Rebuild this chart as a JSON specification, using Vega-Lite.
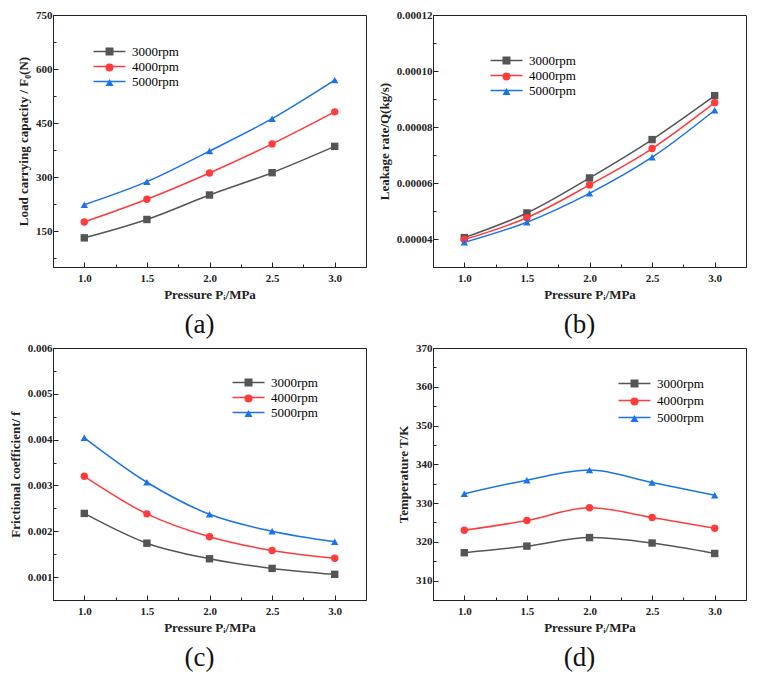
{
  "$schema": "https://vega.github.io/schema/vega-lite/v6.json",
  "padding": {"left": 8, "top": 8, "right": 5, "bottom": 5},
  "background": "white",
  "columns": 2,
  "spacing": {"column": 10, "row": 2},
  "resolve": {
    "scale": {"x": "independent", "y": "independent", "stroke": "independent", "fill": "independent", "shape": "independent"},
    "legend": {"stroke": "independent", "fill": "independent", "shape": "independent"}
  },
  "datasets": {
    "load": [
      {"p": 1.0, "speed": "3000rpm", "v": 131}, {"p": 1.5, "speed": "3000rpm", "v": 182}, {"p": 2.0, "speed": "3000rpm", "v": 250}, {"p": 2.5, "speed": "3000rpm", "v": 312}, {"p": 3.0, "speed": "3000rpm", "v": 385},
      {"p": 1.0, "speed": "4000rpm", "v": 175}, {"p": 1.5, "speed": "4000rpm", "v": 238}, {"p": 2.0, "speed": "4000rpm", "v": 311}, {"p": 2.5, "speed": "4000rpm", "v": 392}, {"p": 3.0, "speed": "4000rpm", "v": 481},
      {"p": 1.0, "speed": "5000rpm", "v": 223}, {"p": 1.5, "speed": "5000rpm", "v": 287}, {"p": 2.0, "speed": "5000rpm", "v": 372}, {"p": 2.5, "speed": "5000rpm", "v": 462}, {"p": 3.0, "speed": "5000rpm", "v": 569}
    ],
    "leak": [
      {"p": 1.0, "speed": "3000rpm", "v": 0.0000405}, {"p": 1.5, "speed": "3000rpm", "v": 0.0000493}, {"p": 2.0, "speed": "3000rpm", "v": 0.0000618}, {"p": 2.5, "speed": "3000rpm", "v": 0.0000755}, {"p": 3.0, "speed": "3000rpm", "v": 0.0000912},
      {"p": 1.0, "speed": "4000rpm", "v": 0.0000398}, {"p": 1.5, "speed": "4000rpm", "v": 0.0000476}, {"p": 2.0, "speed": "4000rpm", "v": 0.0000593}, {"p": 2.5, "speed": "4000rpm", "v": 0.0000723}, {"p": 3.0, "speed": "4000rpm", "v": 0.0000887},
      {"p": 1.0, "speed": "5000rpm", "v": 0.0000388}, {"p": 1.5, "speed": "5000rpm", "v": 0.000046}, {"p": 2.0, "speed": "5000rpm", "v": 0.0000563}, {"p": 2.5, "speed": "5000rpm", "v": 0.0000692}, {"p": 3.0, "speed": "5000rpm", "v": 0.000086}
    ],
    "fric": [
      {"p": 1.0, "speed": "3000rpm", "v": 0.00239}, {"p": 1.5, "speed": "3000rpm", "v": 0.00174}, {"p": 2.0, "speed": "3000rpm", "v": 0.0014}, {"p": 2.5, "speed": "3000rpm", "v": 0.00119}, {"p": 3.0, "speed": "3000rpm", "v": 0.00106},
      {"p": 1.0, "speed": "4000rpm", "v": 0.0032}, {"p": 1.5, "speed": "4000rpm", "v": 0.00238}, {"p": 2.0, "speed": "4000rpm", "v": 0.00188}, {"p": 2.5, "speed": "4000rpm", "v": 0.00158}, {"p": 3.0, "speed": "4000rpm", "v": 0.00141},
      {"p": 1.0, "speed": "5000rpm", "v": 0.00404}, {"p": 1.5, "speed": "5000rpm", "v": 0.00307}, {"p": 2.0, "speed": "5000rpm", "v": 0.00237}, {"p": 2.5, "speed": "5000rpm", "v": 0.002}, {"p": 3.0, "speed": "5000rpm", "v": 0.00177}
    ],
    "temp": [
      {"p": 1.0, "speed": "3000rpm", "v": 317.2}, {"p": 1.5, "speed": "3000rpm", "v": 318.9}, {"p": 2.0, "speed": "3000rpm", "v": 321.1}, {"p": 2.5, "speed": "3000rpm", "v": 319.7}, {"p": 3.0, "speed": "3000rpm", "v": 317.0},
      {"p": 1.0, "speed": "4000rpm", "v": 323.0}, {"p": 1.5, "speed": "4000rpm", "v": 325.5}, {"p": 2.0, "speed": "4000rpm", "v": 328.8}, {"p": 2.5, "speed": "4000rpm", "v": 326.3}, {"p": 3.0, "speed": "4000rpm", "v": 323.5},
      {"p": 1.0, "speed": "5000rpm", "v": 332.4}, {"p": 1.5, "speed": "5000rpm", "v": 335.9}, {"p": 2.0, "speed": "5000rpm", "v": 338.5}, {"p": 2.5, "speed": "5000rpm", "v": 335.3}, {"p": 3.0, "speed": "5000rpm", "v": 332.0}
    ]
  },
  "concat": [
    {
      "width": 313, "height": 252,
      "data": {"name": "load"},
      "title": {"text": "(a)", "orient": "bottom", "frame": "group", "dx": -10, "offset": 11},
      "resolve": {"axis": {"x": "independent", "y": "independent"}},
      "layer": [
        {
          "mark": {"type": "line", "interpolate": "monotone", "strokeWidth": 1.5},
          "encoding": {
            "x": {"field": "p", "type": "quantitative", "scale": {"domain": [0.75, 3.25], "nice": false}, "axis": {"values": [1, 1.5, 2, 2.5, 3], "format": ".1f", "title": "Pressure Pᵢ/MPa", "labelPadding": 10}},
            "y": {"field": "v", "type": "quantitative", "scale": {"domain": [50, 750], "nice": false, "zero": false}, "axis": {"values": [150, 300, 450, 600, 750], "format": "d", "title": "Load carrying capacity / F₀(N)"}},
            "stroke": {"field": "speed", "type": "nominal", "scale": {"domain": ["3000rpm", "4000rpm", "5000rpm"], "range": ["#555555", "#ff3b3b", "#1a73e8"]},
              "legend": {"orient": "none", "legendX": 50, "legendY": 30, "title": null, "rowPadding": 1, "symbolType": "M-4,0H4"}}
          }
        },
        {
          "mark": {"type": "point", "filled": true, "size": 55, "opacity": 1},
          "encoding": {
            "x": {"field": "p", "type": "quantitative", "axis": {"orient": "bottom", "values": [1.25, 1.75, 2.25, 2.75], "labels": false, "title": null, "domain": false, "tickSize": -3}},
            "y": {"field": "v", "type": "quantitative", "axis": {"orient": "left", "values": [75, 225, 375, 525, 675], "labels": false, "title": null, "domain": false, "tickSize": -3}},
            "fill": {"field": "speed", "type": "nominal", "scale": {"range": ["#555555", "#ff3b3b", "#1a73e8"]},
              "legend": {"orient": "none", "legendX": 50, "legendY": 30, "title": null, "rowPadding": 1, "labelExpr": "''"}},
            "shape": {"field": "speed", "type": "nominal", "scale": {"range": ["square", "circle", "triangle-up"]},
              "legend": {"orient": "none", "legendX": 50, "legendY": 30, "title": null, "rowPadding": 1, "labelExpr": "''"}}
          }
        }
      ]
    },
    {
      "width": 313, "height": 252,
      "data": {"name": "leak"},
      "title": {"text": "(b)", "orient": "bottom", "frame": "group", "dx": -10, "offset": 11},
      "resolve": {"axis": {"x": "independent", "y": "independent"}},
      "layer": [
        {
          "mark": {"type": "line", "interpolate": "monotone", "strokeWidth": 1.5},
          "encoding": {
            "x": {"field": "p", "type": "quantitative", "scale": {"domain": [0.75, 3.25], "nice": false}, "axis": {"values": [1, 1.5, 2, 2.5, 3], "format": ".1f", "title": "Pressure Pᵢ/MPa", "labelPadding": 10}},
            "y": {"field": "v", "type": "quantitative", "scale": {"domain": [0.00003, 0.00012], "nice": false, "zero": false}, "axis": {"values": [0.00004, 0.00006, 0.00008, 0.0001, 0.00012], "format": ".5f", "title": "Leakage rate/Q(kg/s)"}},
            "stroke": {"field": "speed", "type": "nominal", "scale": {"domain": ["3000rpm", "4000rpm", "5000rpm"], "range": ["#555555", "#ff3b3b", "#1a73e8"]},
              "legend": {"orient": "none", "legendX": 67, "legendY": 39, "title": null, "rowPadding": 1, "symbolType": "M-4,0H4"}}
          }
        },
        {
          "mark": {"type": "point", "filled": true, "size": 55, "opacity": 1},
          "encoding": {
            "x": {"field": "p", "type": "quantitative", "axis": {"orient": "bottom", "values": [1.25, 1.75, 2.25, 2.75], "labels": false, "title": null, "domain": false, "tickSize": -3}},
            "y": {"field": "v", "type": "quantitative", "axis": {"orient": "left", "values": [0.00005, 0.00007, 0.00009, 0.00011], "labels": false, "title": null, "domain": false, "tickSize": -3}},
            "fill": {"field": "speed", "type": "nominal", "scale": {"range": ["#555555", "#ff3b3b", "#1a73e8"]},
              "legend": {"orient": "none", "legendX": 67, "legendY": 39, "title": null, "rowPadding": 1, "labelExpr": "''"}},
            "shape": {"field": "speed", "type": "nominal", "scale": {"range": ["square", "circle", "triangle-up"]},
              "legend": {"orient": "none", "legendX": 67, "legendY": 39, "title": null, "rowPadding": 1, "labelExpr": "''"}}
          }
        }
      ]
    },
    {
      "width": 313, "height": 252,
      "data": {"name": "fric"},
      "title": {"text": "(c)", "orient": "bottom", "frame": "group", "dx": -10, "offset": 11},
      "resolve": {"axis": {"x": "independent", "y": "independent"}},
      "layer": [
        {
          "mark": {"type": "line", "interpolate": "monotone", "strokeWidth": 1.5},
          "encoding": {
            "x": {"field": "p", "type": "quantitative", "scale": {"domain": [0.75, 3.25], "nice": false}, "axis": {"values": [1, 1.5, 2, 2.5, 3], "format": ".1f", "title": "Pressure Pᵢ/MPa", "labelPadding": 10}},
            "y": {"field": "v", "type": "quantitative", "scale": {"domain": [0.0005, 0.006], "nice": false, "zero": false}, "axis": {"values": [0.001, 0.002, 0.003, 0.004, 0.005, 0.006], "format": ".3f", "title": "Frictional coefficient/ f"}},
            "stroke": {"field": "speed", "type": "nominal", "scale": {"domain": ["3000rpm", "4000rpm", "5000rpm"], "range": ["#555555", "#ff3b3b", "#1a73e8"]},
              "legend": {"orient": "none", "legendX": 189, "legendY": 28, "title": null, "rowPadding": 1, "symbolType": "M-4,0H4"}}
          }
        },
        {
          "mark": {"type": "point", "filled": true, "size": 55, "opacity": 1},
          "encoding": {
            "x": {"field": "p", "type": "quantitative", "axis": {"orient": "bottom", "values": [1.25, 1.75, 2.25, 2.75], "labels": false, "title": null, "domain": false, "tickSize": -3}},
            "y": {"field": "v", "type": "quantitative", "axis": {"orient": "left", "values": [0.0015, 0.0025, 0.0035, 0.0045, 0.0055], "labels": false, "title": null, "domain": false, "tickSize": -3}},
            "fill": {"field": "speed", "type": "nominal", "scale": {"range": ["#555555", "#ff3b3b", "#1a73e8"]},
              "legend": {"orient": "none", "legendX": 189, "legendY": 28, "title": null, "rowPadding": 1, "labelExpr": "''"}},
            "shape": {"field": "speed", "type": "nominal", "scale": {"range": ["square", "circle", "triangle-up"]},
              "legend": {"orient": "none", "legendX": 189, "legendY": 28, "title": null, "rowPadding": 1, "labelExpr": "''"}}
          }
        }
      ]
    },
    {
      "width": 313, "height": 252,
      "data": {"name": "temp"},
      "title": {"text": "(d)", "orient": "bottom", "frame": "group", "dx": -10, "offset": 11},
      "resolve": {"axis": {"x": "independent", "y": "independent"}},
      "layer": [
        {
          "mark": {"type": "line", "interpolate": "monotone", "strokeWidth": 1.5},
          "encoding": {
            "x": {"field": "p", "type": "quantitative", "scale": {"domain": [0.75, 3.25], "nice": false}, "axis": {"values": [1, 1.5, 2, 2.5, 3], "format": ".1f", "title": "Pressure Pᵢ/MPa", "labelPadding": 10}},
            "y": {"field": "v", "type": "quantitative", "scale": {"domain": [305, 370], "nice": false, "zero": false}, "axis": {"values": [310, 320, 330, 340, 350, 360, 370], "format": "d", "title": "Temperature T/K"}},
            "stroke": {"field": "speed", "type": "nominal", "scale": {"domain": ["3000rpm", "4000rpm", "5000rpm"], "range": ["#555555", "#ff3b3b", "#1a73e8"]},
              "legend": {"orient": "none", "legendX": 195, "legendY": 29, "title": null, "rowPadding": 3, "symbolType": "M-4,0H4"}}
          }
        },
        {
          "mark": {"type": "point", "filled": true, "size": 55, "opacity": 1},
          "encoding": {
            "x": {"field": "p", "type": "quantitative", "axis": {"orient": "bottom", "values": [1.25, 1.75, 2.25, 2.75], "labels": false, "title": null, "domain": false, "tickSize": -3}},
            "y": {"field": "v", "type": "quantitative", "axis": {"orient": "left", "values": [315, 325, 335, 345, 355, 365], "labels": false, "title": null, "domain": false, "tickSize": -3}},
            "fill": {"field": "speed", "type": "nominal", "scale": {"range": ["#555555", "#ff3b3b", "#1a73e8"]},
              "legend": {"orient": "none", "legendX": 195, "legendY": 29, "title": null, "rowPadding": 3, "labelExpr": "''"}},
            "shape": {"field": "speed", "type": "nominal", "scale": {"range": ["square", "circle", "triangle-up"]},
              "legend": {"orient": "none", "legendX": 195, "legendY": 29, "title": null, "rowPadding": 3, "labelExpr": "''"}}
          }
        }
      ]
    }
  ],
  "config": {
    "view": {"stroke": "#222222", "strokeWidth": 1},
    "legend": {"labelFont": "Liberation Serif", "labelFontSize": 13, "labelColor": "black", "symbolSize": 64, "labelOffset": 16, "padding": 0, "symbolStrokeWidth": 1.5, "symbolOpacity": 1},
    "axis": {
      "grid": false,
      "domainColor": "#222222",
      "tickColor": "#222222",
      "tickSize": -5,
      "labelFont": "Liberation Serif",
      "labelFontSize": 11,
      "labelFontWeight": "bold",
      "labelColor": "#222222",
      "labelPadding": 6,
      "titleFont": "Liberation Serif",
      "titleFontSize": 13,
      "titleFontWeight": "bold",
      "titleColor": "#222222",
      "titlePadding": 5
    },
    "title": {"font": "Liberation Serif", "fontSize": 27, "fontWeight": "normal", "color": "#111111"}
  }
}
